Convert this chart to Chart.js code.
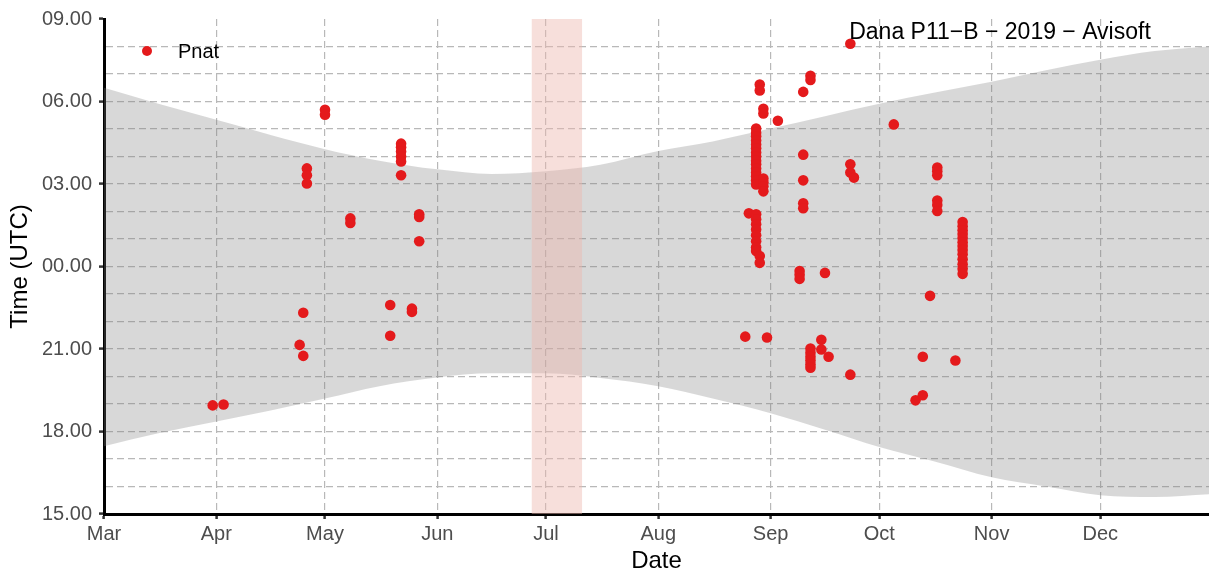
<!DOCTYPE html>
<html>
<head>
<meta charset="utf-8">
<script src="https://cdn.jsdelivr.net/npm/chart.js@4.4.0/dist/chart.umd.min.js"></script>
<style>
  html, body { margin: 0; padding: 0; background: #fff; }
  #wrap { width: 1209px; height: 576px; }
</style>
</head>
<body>
<div id="wrap"><canvas id="chart" width="1209" height="576"></canvas></div>
<script>
// x axis: Mar 1 to Dec 31, one tick per month
const axisStart = '2019-03-01';
const axisEnd = '2019-12-31';
const monthLabels = ['Mar', 'Apr', 'May', 'Jun', 'Jul', 'Aug', 'Sep', 'Oct', 'Nov', 'Dec'];
const monthStarts = ['2019-03-01', '2019-04-01', '2019-05-01', '2019-06-01', '2019-07-01',
  '2019-08-01', '2019-09-01', '2019-10-01', '2019-11-01', '2019-12-01'];

// y axis: 15.00 -> 09.00 next morning
const timeTickLabels = ['15.00', '18.00', '21.00', '00.00', '03.00', '06.00', '09.00'];

// night band (sunset -> sunrise)
const sunDates = ['2019-03-01', '2019-03-16', '2019-04-01', '2019-04-16', '2019-05-01', '2019-05-16',
  '2019-06-01', '2019-06-16', '2019-07-01', '2019-07-16', '2019-08-01', '2019-08-16', '2019-09-01',
  '2019-09-16', '2019-10-01', '2019-10-16', '2019-11-01', '2019-11-16', '2019-12-01', '2019-12-16',
  '2019-12-31'];
const sunrise = ['06:30', '05:55', '05:20', '04:47', '04:16', '03:51', '03:32', '03:22', '03:28', '03:42',
  '04:12', '04:33', '05:01', '05:28', '05:55', '06:19', '06:43', '07:08', '07:31', '07:50', '08:00'];
const sunset = ['17:28', '17:56', '18:22', '18:46', '19:12', '19:39', '19:58', '20:07', '20:07', '19:57',
  '19:39', '19:12', '18:40', '18:04', '17:26', '16:55', '16:20', '16:00', '15:41', '15:37', '15:43'];

// pink period with no recording
const gapDates = ['2019-06-27', '2019-07-11'];

// Pnat detections
const pnatDates = [
  '2019-03-31', '2019-04-03', '2019-04-24', '2019-04-25', '2019-04-25',
  '2019-04-26', '2019-04-26', '2019-04-26', '2019-05-01', '2019-05-01',
  '2019-05-08', '2019-05-08', '2019-05-19', '2019-05-19',
  '2019-05-22', '2019-05-22', '2019-05-22', '2019-05-22', '2019-05-22', '2019-05-22',
  '2019-05-25', '2019-05-25', '2019-05-27', '2019-05-27', '2019-05-27',
  '2019-08-25', '2019-08-26',
  '2019-08-28', '2019-08-28', '2019-08-28', '2019-08-28', '2019-08-28', '2019-08-28', '2019-08-28', '2019-08-28',
  '2019-08-28', '2019-08-28', '2019-08-28', '2019-08-28', '2019-08-28', '2019-08-28', '2019-08-28',
  '2019-08-28', '2019-08-28', '2019-08-28', '2019-08-28', '2019-08-28', '2019-08-28', '2019-08-28', '2019-08-28',
  '2019-08-29', '2019-08-29', '2019-08-29', '2019-08-29',
  '2019-08-30', '2019-08-30', '2019-08-30', '2019-08-30', '2019-08-30', '2019-08-30',
  '2019-08-31', '2019-09-03',
  '2019-09-09', '2019-09-09', '2019-09-09',
  '2019-09-10', '2019-09-10', '2019-09-10', '2019-09-10', '2019-09-10',
  '2019-09-12', '2019-09-12', '2019-09-12', '2019-09-12', '2019-09-12', '2019-09-12', '2019-09-12', '2019-09-12',
  '2019-09-15', '2019-09-15', '2019-09-16', '2019-09-17',
  '2019-09-23', '2019-09-23', '2019-09-23', '2019-09-23', '2019-09-24',
  '2019-10-05', '2019-10-11', '2019-10-13', '2019-10-13', '2019-10-15',
  '2019-10-17', '2019-10-17', '2019-10-17', '2019-10-17', '2019-10-17', '2019-10-17',
  '2019-10-22',
  '2019-10-24', '2019-10-24', '2019-10-24', '2019-10-24', '2019-10-24', '2019-10-24', '2019-10-24',
  '2019-10-24', '2019-10-24', '2019-10-24', '2019-10-24', '2019-10-24', '2019-10-24'
];
const pnatTimes = [
  '18:57', '18:59', '21:09', '22:19', '20:45',
  '03:34', '03:19', '03:01', '05:42', '05:31',
  '01:45', '01:35', '22:36', '21:29',
  '04:28', '04:20', '04:11', '04:00', '03:49', '03:19',
  '22:28', '22:21', '01:54', '01:48', '00:55',
  '21:27', '01:56',
  '05:01', '04:52', '04:44', '04:35', '04:26', '04:18', '04:09', '04:00',
  '03:51', '03:43', '03:34', '03:25', '03:17', '03:08', '02:59',
  '01:54', '01:43', '01:32', '01:21', '01:08', '00:55', '00:42', '00:34',
  '06:37', '06:24', '00:23', '00:08',
  '05:44', '05:34', '03:12', '03:04', '02:55', '02:44',
  '21:25', '05:18',
  '23:50', '23:42', '23:33',
  '06:21', '04:04', '03:08', '02:18', '02:07',
  '06:56', '06:47', '21:01', '20:52', '20:43', '20:35', '20:26', '20:19',
  '21:20', '20:59', '23:46', '20:43',
  '08:06', '03:43', '03:25', '20:04', '03:14',
  '05:10', '19:08', '19:19', '20:43', '22:56',
  '03:36', '03:28', '03:19', '02:24', '02:14', '02:01',
  '20:35',
  '01:37', '01:28', '01:19', '01:11', '01:02', '00:53', '00:45',
  '00:36', '00:27', '00:16', '00:05', '23:55', '23:44'
];

const plotTitle = 'Dana P11\u2212B \u2212 2019 \u2212 Avisoft';

// days since axisStart, and hours around midnight (15.00 = -9, 09.00 = +9)
const dayNum = s => (Date.parse(s + 'T00:00:00Z') - Date.parse(axisStart + 'T00:00:00Z')) / 86400000;
const hourNum = s => {
  const [h, m] = s.split(/[:.]/).map(Number);
  const v = h + m / 60;
  return v >= 12 ? v - 24 : v;
};

const tickValues = timeTickLabels.map(hourNum);
const fontFamily = '"Liberation Sans", Arial, sans-serif';
const gridColor = '#b8b8b8';
const red = '#E41A1C';

const overlay = {
  id: 'overlay',
  afterDatasetsDraw(chart) {
    const { ctx, chartArea } = chart;
    ctx.save();
    ctx.fillStyle = '#000';
    ctx.font = '23px ' + fontFamily;
    ctx.textAlign = 'center';
    ctx.textBaseline = 'alphabetic';
    ctx.fillText(plotTitle, chartArea.right - 209, chartArea.top + 20);

    // legend inside the panel
    const ds = chart.data.datasets[0];
    ctx.beginPath();
    ctx.arc(chartArea.left + 43, chartArea.top + 32, 5, 0, Math.PI * 2);
    ctx.fillStyle = ds.backgroundColor;
    ctx.fill();
    ctx.fillStyle = '#000';
    ctx.font = '20px ' + fontFamily;
    ctx.textAlign = 'left';
    ctx.fillText(ds.label, chartArea.left + 74, chartArea.top + 39);
    ctx.restore();
  }
};

new Chart(document.getElementById('chart'), {
  type: 'scatter',
  data: {
    datasets: [
      {
        label: 'Pnat',
        data: pnatDates.map((d, i) => ({ x: dayNum(d), y: hourNum(pnatTimes[i]) })),
        backgroundColor: red,
        borderWidth: 0,
        pointRadius: 5.3,
        order: 0
      },
      {
        type: 'line',
        label: 'sunrise',
        data: sunDates.map((d, i) => ({ x: dayNum(d), y: hourNum(sunrise[i]) })),
        borderColor: 'rgba(0,0,0,0)',
        borderWidth: 0,
        pointRadius: 0,
        cubicInterpolationMode: 'monotone',
        backgroundColor: 'rgba(127,127,127,0.3)',
        fill: 2,
        order: 2
      },
      {
        type: 'line',
        label: 'sunset',
        data: sunDates.map((d, i) => ({ x: dayNum(d), y: hourNum(sunset[i]) })),
        borderColor: 'rgba(0,0,0,0)',
        borderWidth: 0,
        pointRadius: 0,
        cubicInterpolationMode: 'monotone',
        fill: false,
        order: 2
      },
      {
        type: 'line',
        label: 'gap',
        data: gapDates.map(d => ({ x: dayNum(d), y: 9 })),
        borderColor: 'rgba(0,0,0,0)',
        borderWidth: 0,
        pointRadius: 0,
        backgroundColor: 'rgba(238,185,175,0.45)',
        fill: { value: -9 },
        order: 1
      }
    ]
  },
  options: {
    responsive: false,
    animation: false,
    devicePixelRatio: 1,
    events: [],
    layout: { autoPadding: false, padding: { top: 17, left: 0, right: 0, bottom: 0 } },
    plugins: {
      legend: { display: false },
      tooltip: { enabled: false }
    },
    scales: {
      x: {
        type: 'linear',
        min: 0,
        max: dayNum(axisEnd),
        afterBuildTicks: s => { s.ticks = monthStarts.map(d => ({ value: dayNum(d) })); },
        afterFit: s => { s.height = 62; s.paddingRight = 0; s.paddingLeft = 0; },
        ticks: {
          autoSkip: false,
          maxRotation: 0,
          padding: 3,
          color: '#4d4d4d',
          font: { family: fontFamily, size: 20 },
          callback: (v, i) => monthLabels[i]
        },
        grid: {
          color: c => (c.tick && c.tick.value === 0) ? 'rgba(0,0,0,0)' : gridColor,
          lineWidth: 1.2,
          tickLength: 5,
          tickWidth: 2.5,
          tickColor: '#333'
        },
        border: { display: true, color: '#000', width: 3, dash: [7, 4] },
        title: {
          display: true,
          text: 'Date',
          color: '#000',
          font: { family: fontFamily, size: 24 },
          padding: { top: 4, bottom: 0 }
        }
      },
      y: {
        min: -9,
        max: 9,
        afterFit: s => { s.width = 104; },
        ticks: {
          stepSize: 1,
          autoSkip: false,
          padding: 7,
          color: '#4d4d4d',
          font: { family: fontFamily, size: 20 },
          callback: v => {
            const i = tickValues.indexOf(v);
            return i >= 0 ? timeTickLabels[i] : '';
          }
        },
        grid: {
          color: c => (c.tick && Math.abs(c.tick.value) === 9) ? 'rgba(0,0,0,0)' : gridColor,
          lineWidth: 1.2,
          tickLength: 5,
          tickWidth: 2.5,
          tickColor: c => (c.tick && tickValues.includes(c.tick.value)) ? '#333' : 'rgba(0,0,0,0)'
        },
        border: { display: true, color: '#000', width: 3, dash: [7, 4] },
        title: {
          display: true,
          text: 'Time (UTC)',
          color: '#000',
          font: { family: fontFamily, size: 24 },
          padding: { top: 6, bottom: 0 }
        }
      }
    }
  },
  plugins: [overlay]
});
</script>
</body>
</html>
